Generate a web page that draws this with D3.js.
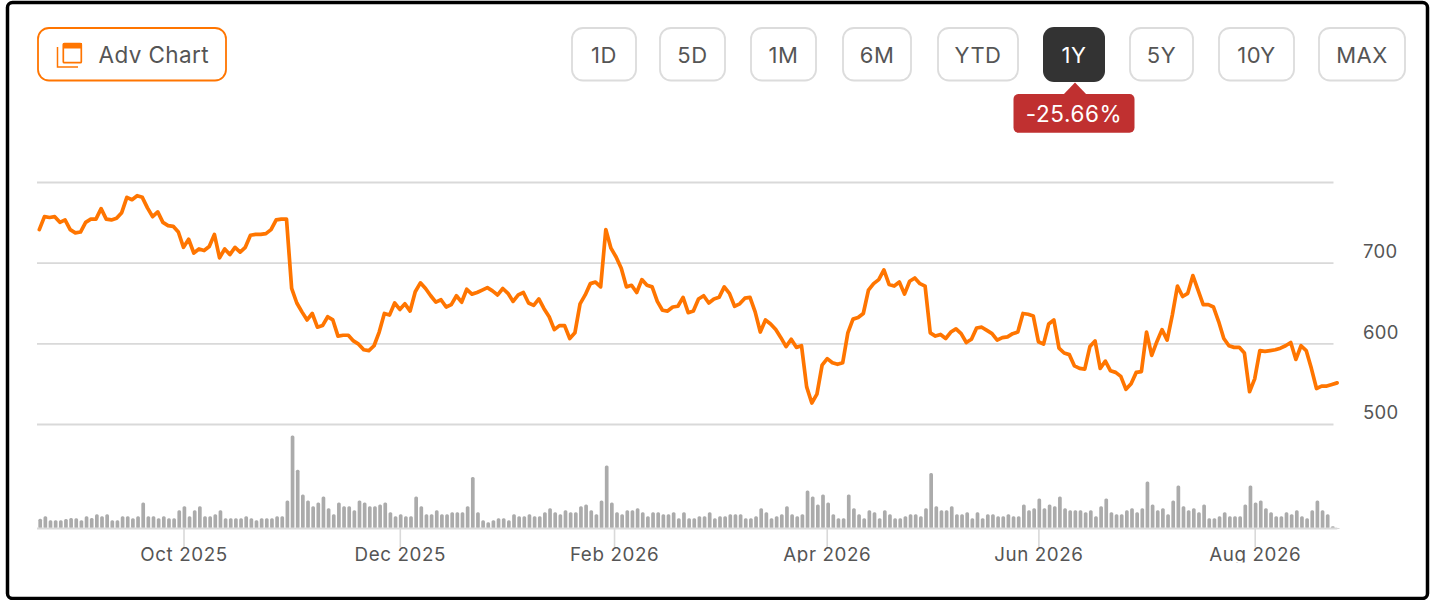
<!DOCTYPE html>
<html>
<head>
<meta charset="utf-8">
<title>1Y price chart</title>
<script src="https://cdn.jsdelivr.net/npm/d3@7"></script>
<style>
html,body{margin:0;padding:0;background:#fff;}
svg{display:block;}
text{font-family:Inter,"Noto Sans",sans-serif;}
</style>
</head>
<body>
<svg id="chart" width="1436" height="600"></svg>
<script>
const prices = [741,757,756,757,750,753,741,737,738,750,754,754,767,754,753,755,762,781,778,783,
781,768,757,763,750,746,745,738,719,729,712,717,715,720,735,706,717,710,719,713,
719,734,735,735,736,741,753,754,754,668,650,639,629,637,620,622,633,629,609,610,
610,603,599,592,591,597,614,637,635,650,642,649,640,664,675,668,659,651,654,645,
648,659,651,667,661,663,666,669,665,660,668,662,652,660,663,650,647,655,643,633,
617,622,622,606,613,649,660,674,676,670,741,718,707,693,670,672,663,679,672,670,
652,641,640,645,646,657,638,640,655,659,650,655,657,670,662,646,649,656,657,639,
614,629,624,617,607,596,605,595,597,546,526,537,573,581,576,574,576,613,630,632,
637,666,674,679,691,673,671,676,661,677,681,674,671,613,609,611,606,614,618,612,
601,605,619,620,616,612,604,607,608,612,614,637,636,634,602,599,624,629,594,588,
586,572,569,568,596,603,569,578,566,564,559,543,550,564,565,614,585,602,617,604,
635,671,658,662,684,666,648,648,645,627,606,597,595,595,588,540,556,591,590,591,
592,594,597,601,580,597,591,569,544,547,547,549,551];

const volumes = [28,35,23,23,23,27,30,29,23,35,30,41,35,41,23,23,35,35,29,35,
77,35,35,29,35,29,29,53,65,35,53,65,35,35,41,53,29,29,29,29,
35,29,23,29,29,29,35,35,83,278,175,101,83,65,77,95,59,41,77,65,
65,53,83,77,65,65,71,77,47,35,41,35,35,95,65,41,41,53,41,41,
47,47,47,65,153,47,
23,17,23,29,29,23,41,35,35,41,35,35,47,59,47,41,53,47,47,65,
71,53,41,83,188,77,47,41,53,53,59,47,35,47,47,41,41,47,29,47,
29,29,35,35,47,29,35,35,41,41,41,29,29,35,59,47,29,35,41,65,
41,35,41,113,95,71,101,77,41,29,29,101,59,41,29,53,47,29,53,41,
29,29,35,41,41,35,59,165,65,53,53,65,41,
41,47,29,47,29,41,41,35,35,41,35,35,71,53,59,89,59,71,65,95,
59,53,53,53,47,53,35,65,89,47,41,41,53,59,47,59,140,71,53,59,
41,83,128,65,53,59,47,71,29,29,35,47,35,35,35,71,128,77,83,59,
47,35,35,47,41,53,35,29,53,83,53,41,5,0];

const priceTicks = [500,600,700,800];
const priceLabels = ["500","600","700",""];
const dateTickIndex = [28,70,111.6,152.9,194,236];
const dateTickLabels = ["Oct 2025","Dec 2025","Feb 2026","Apr 2026","Jun 2026","Aug 2026"];
const rangeLabels = ["1D","5D","1M","6M","YTD","1Y","5Y","10Y","MAX"];
const activeRange = "1Y";
const rangeChange = "-25.66%";
const advLabel = "Adv Chart";

const ORANGE = "#ff7500", GREY_TXT = "#555", RULE = "#d9d9d9";
const svg = d3.select("#chart");

// frame
svg.append("rect").attr("x",7.5).attr("y",2.5).attr("width",1420).attr("height",596)
  .attr("rx",5).attr("fill","#fff").attr("stroke","#000").attr("stroke-width",3.5);

// scales
const x = d3.scaleLinear().domain([0, prices.length-1]).range([39.3,1337.1]);
const y = d3.scaleLinear().domain([500,800]).range([424,182]);
const v = d3.scaleLinear().domain([0,278]).range([528,435.5]);

// price gridlines
const grid = svg.append("g").attr("transform","translate(37,0)")
  .call(d3.axisRight(y).tickValues(priceTicks).tickSize(1296.5).tickFormat(""));
grid.select(".domain").remove();
grid.selectAll(".tick line").attr("stroke",RULE).attr("stroke-width",1.8);

// price labels
const yAxis = svg.append("g").attr("transform","translate(1363,-11)")
  .call(d3.axisRight(y).tickValues(priceTicks).tickSize(0).tickPadding(0)
    .tickFormat((d,i)=>priceLabels[i]));
yAxis.select(".domain").remove();
yAxis.selectAll("text").attr("font-size",18.5).attr("fill",GREY_TXT)
  .style("font-family","Inter,sans-serif").attr("letter-spacing",0.3);

// volume bars
const barW = 3.7;
svg.append("g").selectAll("rect").data(volumes).join("rect")
  .attr("x",(d,i)=>x(i)+0.9-barW/2)
  .attr("y",d=>v(d))
  .attr("width",barW)
  .attr("height",d=>Math.max(0,528.5-v(d)))
  .attr("rx",1.5)
  .attr("fill","#ababab");

// date axis
svg.append("clipPath").attr("id","axisClip").append("rect")
  .attr("x",0).attr("y",0).attr("width",1436).attr("height",562.5);
const xAxisWrap = svg.append("g").attr("clip-path","url(#axisClip)");
const xAxis = xAxisWrap.append("g").attr("transform","translate(0,528.5)")
  .call(d3.axisBottom(x).tickValues(dateTickIndex).tickSize(19).tickPadding(0)
    .tickFormat((d,i)=>dateTickLabels[i]));
xAxis.select(".domain").attr("d","M-1.3,0H1299").attr("transform","translate(38.3,0)")
  .attr("stroke",RULE).attr("stroke-width",1.8);
xAxis.selectAll(".tick line").attr("stroke",RULE).attr("stroke-width",1.6);
xAxis.selectAll("text").attr("font-size",18.8).attr("fill",GREY_TXT)
  .attr("letter-spacing",0.6).style("font-family","Inter,sans-serif")
  .attr("y",19.5).attr("dy","0.71em");

// price line
svg.append("path").datum(prices)
  .attr("fill","none").attr("stroke",ORANGE).attr("stroke-width",3.7)
  .attr("stroke-linejoin","round").attr("stroke-linecap","round")
  .attr("d",d3.line().x((d,i)=>x(i)).y(d=>y(d)));

// Adv Chart button
svg.append("rect").attr("x",38).attr("y",28).attr("width",188).attr("height",52.5)
  .attr("rx",11).attr("fill","#fff").attr("stroke",ORANGE).attr("stroke-width",1.8);
const icon = svg.append("g");
icon.append("path").attr("d","M57.5,47V67H78").attr("fill","none").attr("stroke",ORANGE).attr("stroke-width",1.5);
icon.append("rect").attr("x",63.3).attr("y",43.5).attr("width",18).attr("height",19.2)
  .attr("fill","#fff").attr("stroke",ORANGE).attr("stroke-width",1.7).attr("rx",1);
icon.append("rect").attr("x",63).attr("y",43).attr("width",19).attr("height",5.5).attr("fill",ORANGE);
svg.append("text").attr("x",98.5).attr("y",62.5).attr("font-size",22.5).attr("fill",GREY_TXT)
  .attr("letter-spacing",0.4).text(advLabel);

// range buttons
const rangeBoxes = [[571,637],[659,726],[750,817],[842,912],[937,1019],[1043,1105],[1129,1194],[1218,1295],[1318,1406]];
const btn = svg.append("g").selectAll("g").data(rangeLabels).join("g");
btn.append("rect")
  .attr("x",(d,i)=>rangeBoxes[i][0]+(d===activeRange?0:1))
  .attr("y",d=>d===activeRange?27:28)
  .attr("width",(d,i)=>rangeBoxes[i][1]-rangeBoxes[i][0]-(d===activeRange?0:2))
  .attr("height",d=>d===activeRange?55:52.5)
  .attr("rx",11)
  .attr("fill",d=>d===activeRange?"#333":"#fff")
  .attr("stroke",d=>d===activeRange?"none":"#dcdcdc")
  .attr("stroke-width",1.8);
btn.append("text")
  .attr("x",(d,i)=>(rangeBoxes[i][0]+rangeBoxes[i][1])/2)
  .attr("y",62.5).attr("text-anchor","middle").attr("font-size",22)
  .attr("letter-spacing",0.5)
  .attr("fill",d=>d===activeRange?"#fff":GREY_TXT).text(d=>d);

// change badge
svg.append("path").attr("d","M1063,95L1075,82.5L1087,95Z").attr("fill","#c03030");
svg.append("rect").attr("x",1013.5).attr("y",94).attr("width",121).attr("height",38.8).attr("rx",5).attr("fill","#c03030");
svg.append("text").attr("x",1074).attr("y",122).attr("text-anchor","middle")
  .attr("font-size",22.5).attr("letter-spacing",0.6).attr("fill","#fff").text(rangeChange);
</script>
</body>
</html>
